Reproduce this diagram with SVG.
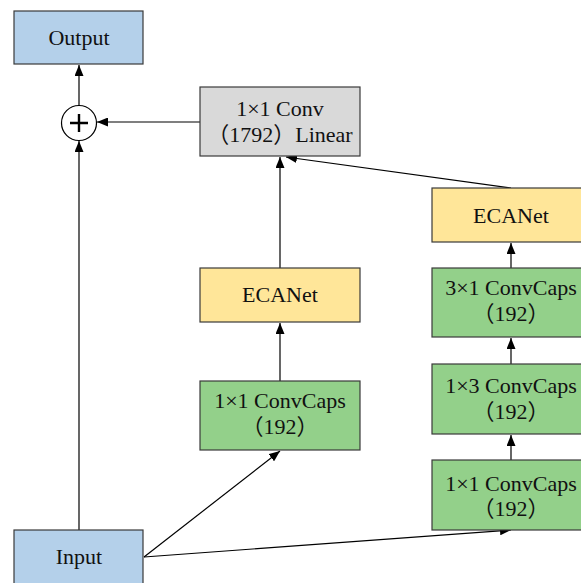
<svg xmlns="http://www.w3.org/2000/svg" width="581" height="583" viewBox="0 0 581 583">
<style>
.box{stroke:#3a3a3a;stroke-width:1.2}
.blue{fill:#b4d0ea}.grey{fill:#d9d9d9}.yellow{fill:#ffe699}.green{fill:#93d08a}
text{font-family:'Liberation Serif','Times New Roman','Noto Sans CJK SC',serif;font-size:22px;fill:#111;text-anchor:middle}
.edge{stroke:#000;stroke-width:1.2;fill:none;marker-end:url(#ah)}
</style>
<defs>
<marker id="ah" viewBox="0 0 11 9" refX="11" refY="4.5" markerWidth="11" markerHeight="9" markerUnits="userSpaceOnUse" orient="auto">
<path d="M0,0 L11,4.5 L0,9 Z" fill="#000"/>
</marker>
</defs>
<rect width="581" height="583" fill="#fff"/>
<g id="connectors">
<line class="edge" x1="79" y1="105" x2="79" y2="65"/>
<line class="edge" x1="79" y1="530" x2="79" y2="141"/>
<line class="edge" x1="200" y1="122" x2="97" y2="122"/>
<line class="edge" x1="280" y1="268" x2="280" y2="157"/>
<line class="edge" x1="511" y1="188" x2="286" y2="157"/>
<line class="edge" x1="280" y1="381" x2="280" y2="323"/>
<line class="edge" x1="144" y1="557" x2="280" y2="451"/>
<line class="edge" x1="144" y1="557" x2="511" y2="530"/>
<line class="edge" x1="511" y1="268" x2="511" y2="243"/>
<line class="edge" x1="511" y1="364" x2="511" y2="338"/>
<line class="edge" x1="511" y1="460" x2="511" y2="435"/>
</g>
<g id="output"><rect class="box blue" x="14" y="11" width="129" height="53"/><text x="79" y="45">Output</text></g>
<g id="add"><circle cx="79" cy="123" r="17.5" fill="#fff" stroke="#000" stroke-width="1.2"/><path d="M70,123 H88 M79,114 V132" stroke="#000" stroke-width="2.4"/></g>
<g id="conv1792"><rect class="box grey" x="200" y="87" width="160" height="69"/><text x="280" y="116">1×1 Conv</text><text x="280" y="142">（1792）Linear</text></g>
<g id="eca_mid"><rect class="box yellow" x="200" y="268" width="160" height="54"/><text x="280" y="302">ECANet</text></g>
<g id="caps_mid"><rect class="box green" x="200" y="381" width="160" height="69"/><text x="280" y="408">1×1 ConvCaps</text><text x="280" y="434">（192）</text></g>
<g id="eca_right"><rect class="box yellow" x="432" y="188" width="160" height="54"/><text x="511" y="223">ECANet</text></g>
<g id="caps31"><rect class="box green" x="432" y="268" width="160" height="69"/><text x="511" y="295">3×1 ConvCaps</text><text x="511" y="321">（192）</text></g>
<g id="caps13"><rect class="box green" x="432" y="364" width="160" height="70"/><text x="511" y="393">1×3 ConvCaps</text><text x="511" y="419">（192）</text></g>
<g id="caps11r"><rect class="box green" x="432" y="460" width="160" height="70"/><text x="511" y="491">1×1 ConvCaps</text><text x="511" y="516">（192）</text></g>
<g id="input"><rect class="box blue" x="14" y="530" width="129" height="60"/><text x="79" y="564">Input</text></g>
</svg>
